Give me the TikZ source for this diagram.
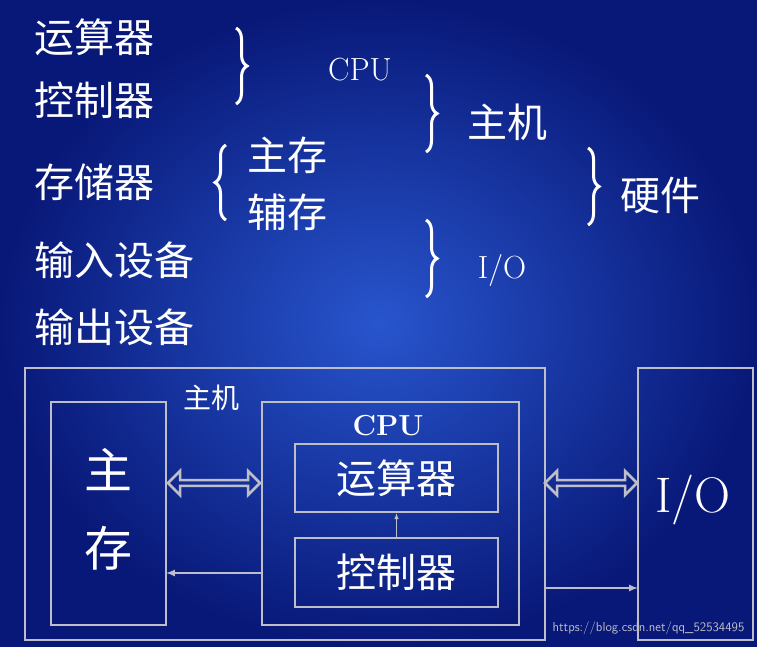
\documentclass[tikz,border=0pt]{standalone}
\usepackage{fontspec}
\newfontfamily\cjk{Noto Sans CJK SC}
\usetikzlibrary{decorations.pathreplacing,shapes.arrows}
\definecolor{bgdark}{RGB}{8,24,120}
\definecolor{bglight}{RGB}{40,85,205}
\definecolor{linegray}{RGB}{190,190,200}
\tikzset{
  ItemStyle/.style = {text=white, font=\cjk\fontsize{40}{40}\selectfont, inner sep=0pt},
  LatinStyle/.style = {text=white, font=\fontsize{32}{32}\selectfont, inner sep=0pt},
  BraceStyle/.style = {draw=white, line width=3pt, decorate,
    decoration={brace, amplitude=11pt}},
  BoxStyle/.style = {draw=linegray, line width=2.5pt},
  LinkStyle/.style = {draw=linegray, line width=2pt, -latex},
  WideArrow/.style = {double arrow, draw=linegray, line width=2.5pt,
    minimum height=86pt, minimum width=24pt, double arrow head extend=4pt,
    inner sep=0pt, shape border rotate=0}
}
\begin{document}
\begin{tikzpicture}[x=1pt,y=-1pt]
  \useasboundingbox (0,0) rectangle (757,647);
  \shade[inner color=bglight, outer color=bgdark] (0,0) rectangle (757,647);

  % upper part: classification
  \node[ItemStyle,anchor=west] (alu) at (34,37) {运算器};
  \node[ItemStyle,anchor=west] (cu) at (34,100) {控制器};
  \node[ItemStyle,anchor=west] (mem) at (34,182) {存储器};
  \node[ItemStyle,anchor=west] (in) at (34,260) {输入设备};
  \node[ItemStyle,anchor=west] (out) at (34,327) {输出设备};
  \node[ItemStyle] (mainmem) at (287,155) {主存};
  \node[ItemStyle] (auxmem) at (287,212) {辅存};
  \node[LatinStyle] (cpu) at (360,70) {CPU};
  \node[ItemStyle] (host) at (507,122) {主机};
  \node[LatinStyle] (io) at (502,270) {I/O};
  \node[ItemStyle] (hw) at (660,195) {硬件};

  \draw[BraceStyle] (236,28) -- (236,104);
  \draw[BraceStyle] (226,220) -- (226,145);
  \draw[BraceStyle] (426,75) -- (426,152);
  \draw[BraceStyle] (588,148) -- (588,225);
  \draw[BraceStyle] (426,220) -- (426,297);

  % lower part: structure
  \draw[BoxStyle] (25,368) rectangle (545,640);
  \node[text=white, font=\cjk\fontsize{28}{28}\selectfont] (hostlbl) at (211,398) {主机};
  \draw[BoxStyle] (51,402) rectangle (166,625);
  \node[text=white, font=\cjk\fontsize{48}{48}\selectfont] (zhu) at (108,470) {主};
  \node[text=white, font=\cjk\fontsize{48}{48}\selectfont] (cun) at (108,548) {存};
  \draw[BoxStyle] (262,402) rectangle (519,625);
  \node[text=white, font=\bfseries\fontsize{29}{29}\selectfont] (cpulbl) at (388,426) {CPU};
  \node[BoxStyle, minimum width=203pt, minimum height=68pt, text=white,
    font=\cjk\fontsize{40}{40}\selectfont] (alubox) at (396.5,478) {运算器};
  \node[BoxStyle, minimum width=203pt, minimum height=69pt, text=white,
    font=\cjk\fontsize{40}{40}\selectfont] (cubox) at (396.5,572.5) {控制器};
  \draw[BoxStyle] (638,368) rectangle (753,640);
  \node[text=white, font=\fontsize{50}{50}\selectfont] (iolbl) at (693,500) {I/O};

  \node[WideArrow, minimum height=92pt] (memcpu) at (214,483) {};
  \node[WideArrow, minimum height=92pt] (cpuio) at (591,483) {};
  \coordinate (cpuleft) at (262,573);
  \coordinate (memright) at (166,573);
  \coordinate (hostright) at (545,588);
  \coordinate (ioleft) at (638,588);
  \draw[LinkStyle] (cpuleft) -- (memright);
  \draw[LinkStyle] (hostright) -- (ioleft);
  \draw[LinkStyle, line width=1pt] (cubox) -- (alubox);

  \node[text=linegray, font=\sffamily\fontsize{13}{13}\selectfont, anchor=east] (mark) at (748,628) {https://blog.csdn.net/qq\_52534495};
\end{tikzpicture}
\end{document}
